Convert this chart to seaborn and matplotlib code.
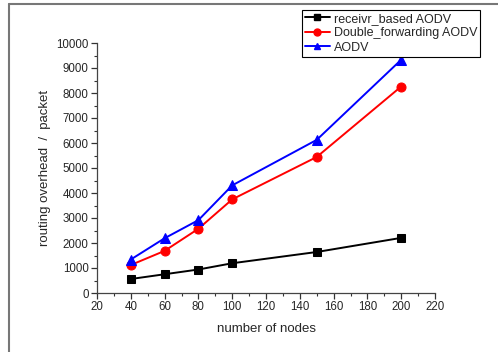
import matplotlib
matplotlib.use("Agg")
import matplotlib.pyplot as plt
import seaborn as sns
import pandas as pd
from matplotlib.ticker import MultipleLocator
from matplotlib.lines import Line2D

nodes = [40, 60, 80, 100, 150, 200]
receivr_based = [560, 750, 940, 1190, 1640, 2205]
double_forwarding = [1120, 1685, 2570, 3745, 5440, 8260]
aodv = [1340, 2190, 2915, 4305, 6125, 9330]

series_names = ["receivr_based AODV", "Double_forwarding AODV", "AODV"]
series_values = [receivr_based, double_forwarding, aodv]
colors = ["#000000", "#ff0000", "#0000ff"]
markers = ["s", "o", "^"]

x_ticks = [20, 40, 60, 80, 100, 120, 140, 160, 180, 200, 220]
y_ticks = [0, 1000, 2000, 3000, 4000, 5000, 6000, 7000, 8000, 9000, 10000]

rows = []
for name, vals in zip(series_names, series_values):
    for n, v in zip(nodes, vals):
        rows.append({"nodes": n, "overhead": v, "series": name})
df = pd.DataFrame(rows)

sns.set_theme(style="ticks")
plt.rcParams['font.family'] = ['Liberation Sans', 'DejaVu Sans']

fig = plt.figure(figsize=(4.98, 3.52), dpi=100)
ax = fig.add_axes([97/498, 1-293/352, (435-97)/498, (293-43)/352])

for name, c, m in zip(series_names, colors, markers):
    sub = df[df.series == name]
    sns.lineplot(data=sub, x="nodes", y="overhead", ax=ax, color=c, marker=m,
                 markersize=6.5 if m != "s" else 5.5, markeredgecolor=c,
                 linewidth=1.4, legend=False)

ax.set_xlim(20, 220)
ax.set_ylim(0, 10000)
ax.set_xticks(x_ticks)
ax.set_yticks(y_ticks)
ax.xaxis.set_minor_locator(MultipleLocator(10))
ax.yaxis.set_minor_locator(MultipleLocator(500))
ax.tick_params(which="major", direction="out", length=4, width=0.9, labelsize=8.3, pad=2, color="#333333")
ax.tick_params(which="minor", direction="out", length=2.5, width=0.8, color="#333333")
for s in ["top", "right"]:
    ax.spines[s].set_visible(False)
for s in ["left", "bottom"]:
    ax.spines[s].set_linewidth(0.9)
    ax.spines[s].set_color("#444444")

ax.set_xlabel("number of nodes", fontsize=9.5, labelpad=7)
ax.set_ylabel("routing overhead  /  packet", fontsize=9.5, labelpad=4)

handles = [Line2D([0], [0], color=c, marker=m, markersize=5 if m != "s" else 4.5, linewidth=1.4)
           for c, m in zip(colors, markers)]
leg = fig.legend(handles, series_names, loc="upper left",
                 bbox_to_anchor=(302/498, 1-10/352), bbox_transform=fig.transFigure,
                 fontsize=9, frameon=True, fancybox=False, framealpha=1,
                 edgecolor="black", borderpad=0.22, labelspacing=0.2,
                 handlelength=2.0, handletextpad=0.3, borderaxespad=0)
leg.get_frame().set_linewidth(0.8)

# figure border (left and top visible)
fig.add_artist(Line2D([8.5/498, 8.5/498], [0, 1-3.5/352], transform=fig.transFigure,
                      color="#777777", linewidth=1.5))
fig.add_artist(Line2D([8.5/498, 1], [1-3.5/352, 1-3.5/352], transform=fig.transFigure,
                      color="#777777", linewidth=1.5))

fig.savefig("out.png", dpi=100)
